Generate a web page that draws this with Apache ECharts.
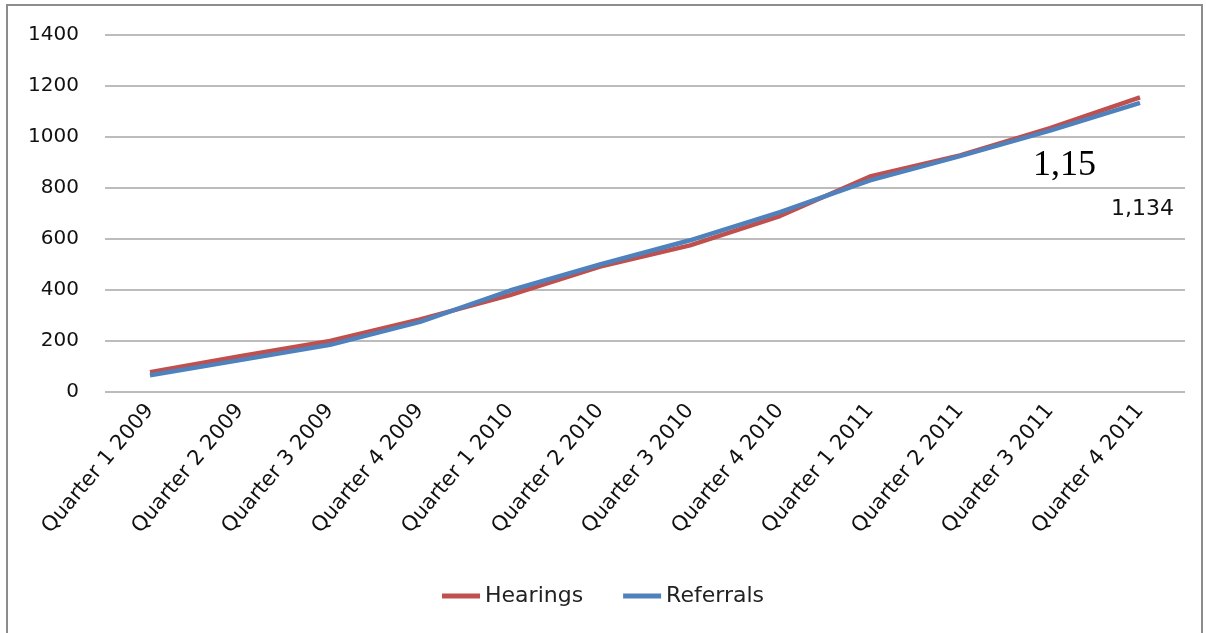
<!DOCTYPE html>
<html>
<head>
<meta charset="utf-8">
<script src="https://cdn.jsdelivr.net/npm/echarts@6/dist/echarts.min.js"></script>
<style>html,body{margin:0;padding:0;background:#fff}#c{width:1206px;height:633px}</style>
</head>
<body>
<div id="c"></div>
<script>
var categories = ['Quarter 1 2009','Quarter 2 2009','Quarter 3 2009','Quarter 4 2009','Quarter 1 2010','Quarter 2 2010','Quarter 3 2010','Quarter 4 2010','Quarter 1 2011','Quarter 2 2011','Quarter 3 2011','Quarter 4 2011'];
var hearings = [78, 140, 200, 285, 380, 492, 575, 690, 845, 928, 1035, 1155];
var referrals = [66, 125, 185, 275, 398, 500, 595, 705, 830, 925, 1025, 1134];
var yTicks = [0, 200, 400, 600, 800, 1000, 1200, 1400];

var chart = echarts.init(document.getElementById('c'), null, {renderer: 'canvas'});
var font = 'DejaVu Sans';
chart.setOption({
  animation: false,
  backgroundColor: '#fff',
  grid: {left: 105, right: 21, top: 35, bottom: 241},
  legend: {
    bottom: 21, left: 'center',
    itemWidth: 38, itemHeight: 5, itemGap: 40,
    icon: 'rect',
    textStyle: {fontFamily: font, fontSize: 22, color: '#222'},
    data: ['Hearings', 'Referrals']
  },
  xAxis: {
    type: 'category', data: categories, boundaryGap: true,
    axisLine: {show: false}, axisTick: {show: false},
    axisLabel: {rotate: 50, fontFamily: font, fontSize: 21, color: '#111', margin: 15, interval: 0}
  },
  yAxis: {
    type: 'value', min: yTicks[0], max: yTicks[yTicks.length - 1], interval: 200,
    axisLine: {show: false}, axisTick: {show: false},
    axisLabel: {fontFamily: font, fontSize: 20, color: '#111', margin: 26, formatter: function (v) { return String(v); }},
    splitLine: {lineStyle: {color: '#a6a6a6', width: 1.5}}
  },
  series: [
    {name: 'Hearings', type: 'line', data: hearings, symbol: 'none', color: '#C0504D', lineStyle: {width: 4.5, color: '#C0504D'}},
    {name: 'Referrals', type: 'line', data: referrals, symbol: 'none', color: '#4F81BD', lineStyle: {width: 4.5, color: '#4F81BD'}}
  ],
  graphic: [
    {type: 'rect', shape: {x: 7, y: 5, width: 1195, height: 640}, style: {fill: 'none', stroke: '#8c8c8c', lineWidth: 2}, silent: true},
    {type: 'text', left: 1033, top: 148, style: {text: '1,15', font: '36px "Liberation Serif"', fill: '#000'}},
    {type: 'text', left: 1111, top: 198, style: {text: '1,134', font: '22px "DejaVu Sans"', fill: '#111'}}
  ]
});
</script>
</body>
</html>
